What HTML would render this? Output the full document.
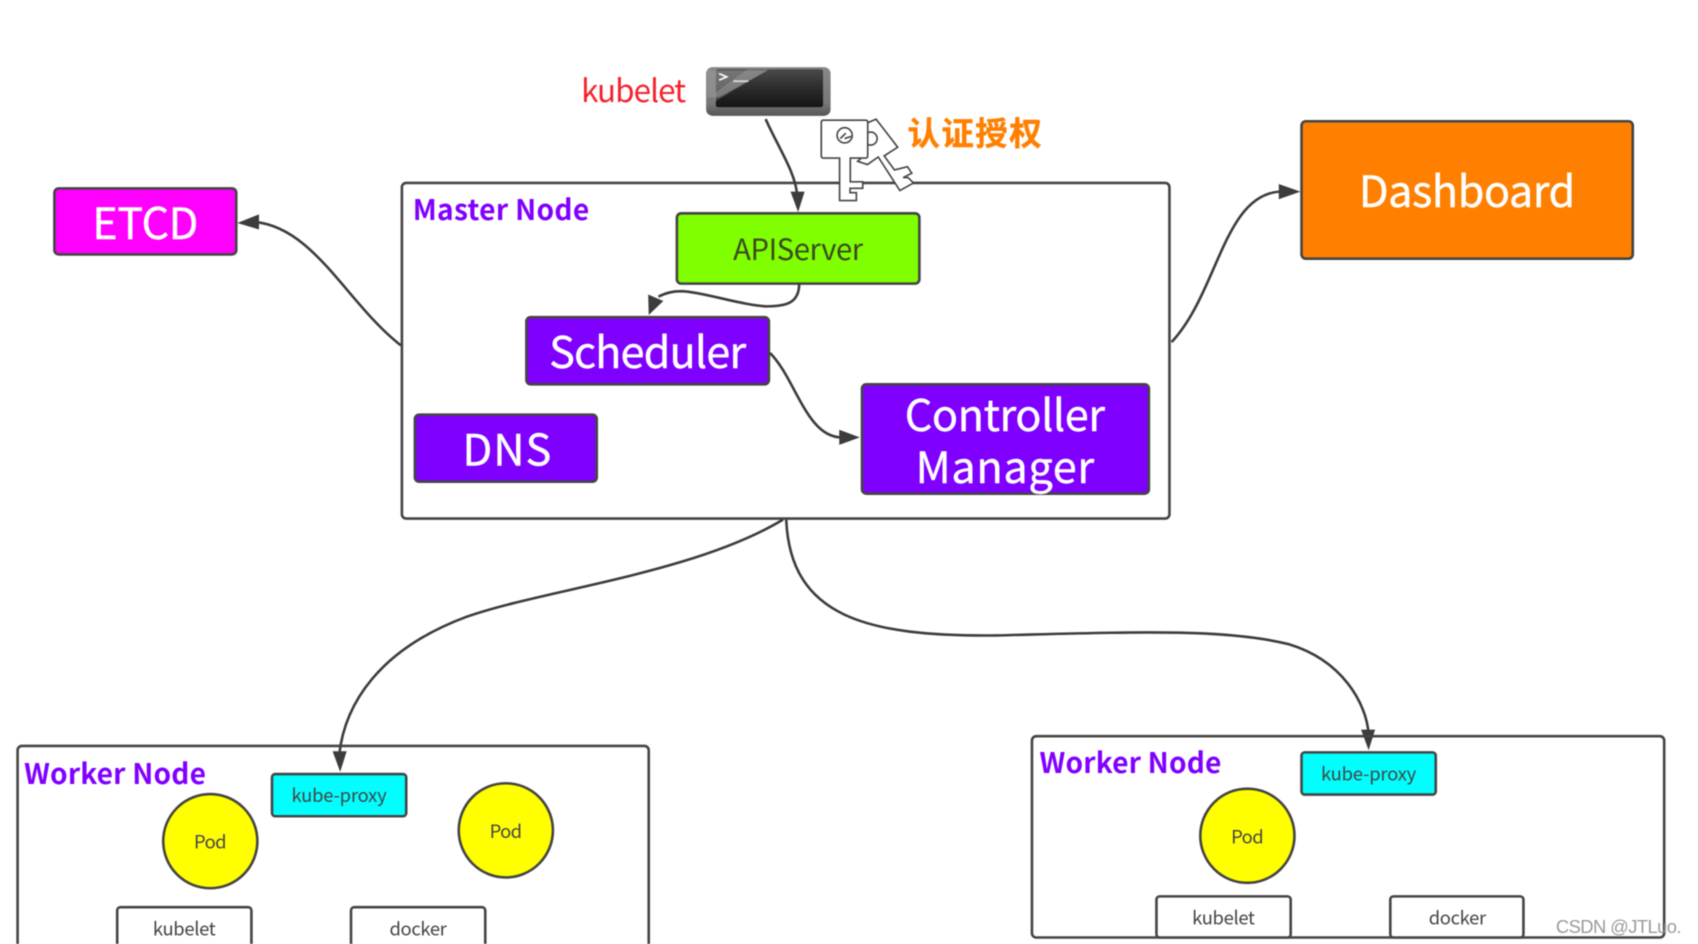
<!DOCTYPE html>
<html><head><meta charset="utf-8"><style>
html,body{margin:0;padding:0;background:#fff;width:1698px;height:944px;overflow:hidden}
svg{display:block;filter:blur(.55px)}
text{font-family:"Noto Sans CJK SC","Liberation Sans",sans-serif;text-anchor:middle}
.b{stroke:#444;stroke-width:2.4}
.e{fill:none;stroke:#3c3c3c;stroke-width:2.4}
.a{fill:#3c3c3c}
.t{fill:#fff;stroke:#fff;stroke-width:.35}
.h{fill:#8000ff;font-weight:700;font-size:26px;text-anchor:start}
.s{fill:#444;font-size:17px}
</style></head><body>
<svg width="1698" height="944" viewBox="0 0 1568 872" xmlns="http://www.w3.org/2000/svg">
<defs>
<linearGradient id="g" x1="0" y1="0" x2="0" y2="1"><stop offset="0" stop-color="#4a4a4a"/><stop offset=".5" stop-color="#2c2c2c"/><stop offset="1" stop-color="#141414"/></linearGradient>
<linearGradient id="o" x1="0" y1="0" x2="0" y2="1"><stop offset="0" stop-color="#888"/><stop offset=".75" stop-color="#777"/><stop offset="1" stop-color="#555"/></linearGradient>
</defs>
<rect x="371" y="169" width="709" height="310" rx="4" fill="#fff" class="b"/>
<text class="h" x="381" y="203" textLength="163">Master Node</text>
<rect x="50" y="174" width="168" height="61" rx="4" fill="#ff00ff" class="b"/>
<text class="t" x="134" y="221" font-size="40" textLength="98">ETCD</text>
<rect x="1202" y="112" width="306" height="127" rx="4" fill="#ff8000" class="b"/>
<text class="t" x="1355" y="191" font-size="40" textLength="200">Dashboard</text>
<rect x="625" y="197" width="224" height="65" rx="4" fill="#80ff00" class="b"/>
<text x="737" y="240" font-size="27" fill="#3a4a20" textLength="120">APIServer</text>
<rect x="486" y="293" width="224" height="62" rx="4" fill="#8000ff" class="b"/>
<text class="t" x="598" y="340" font-size="40" textLength="182">Scheduler</text>
<rect x="383" y="383" width="168" height="62" rx="4" fill="#8000ff" class="b"/>
<text class="t" x="468" y="430" font-size="40" textLength="82">DNS</text>
<rect x="796" y="355" width="265" height="101" rx="4" fill="#8000ff" class="b"/>
<text class="t" x="928" y="398" font-size="40" textLength="185">Controller</text>
<text class="t" x="928" y="446" font-size="40" textLength="165">Manager</text>

<text x="585" y="94" font-size="29" fill="#f5222d" textLength="97">kubelet</text>
<rect x="652" y="62" width="115" height="45" rx="6" fill="url(#o)"/>
<rect x="661" y="64" width="99" height="35" rx="2" fill="url(#g)"/>
<path d="M653 65h56l-45 25h-11z" fill="#9a9a9a" opacity=".55"/>
<path d="M690 64h20l-50 30v-8z" fill="#bbb" opacity=".25"/>
<path d="M664 68l7 3-7 3" fill="none" stroke="#fff" stroke-width="1.6"/><path d="M677 75h14" stroke="#ddd" stroke-width="1.6"/>
<text x="900" y="134" font-size="30" font-weight="700" fill="#ff8000" stroke="#ff8000" stroke-width=".4" textLength="124">认证授权</text>

<g fill="#fff" stroke="#444" stroke-width="1.5">
<path d="M800 114L809 110L829 136L816.5 144L826 157L838 154L842 160L834 164L838.5 164L843.6 169L831 176L811 145L801 152L792 149L801 141Z"/>
<circle cx="804" cy="128" r="6"/>
<path d="M758.4 113Q758.4 111 760.4 111H799.3Q801.3 111 801.3 113V144Q801.3 146 799.3 146H785.2V168H796.7V174H785V178H790.8V185.3H775.3V146H760.4Q758.4 146 758.4 144Z"/>
<circle cx="780" cy="125" r="7"/>
<path d="M776 128l5-5M780 128l6-2" fill="none"/>
</g>

<path class="e" d="M707 110C718 135 735 160 736 180"/><path class="a" d="M730 177h13l-6 19z"/>
<path class="e" d="M738 262C738 280 726 283 708 283C685 282 650 270 630 269C622 269 616 270 608 274"/><path class="a" d="M599 291l-.5-19 14 6z"/>
<path class="e" d="M711 326C735 350 745 405 778 404"/><path class="a" d="M775 397l19 7-19 7z"/>
<path class="e" d="M370 319C320 280 290 210 235 205"/><path class="a" d="M239 198l-20 8 20 6z"/>
<path class="e" d="M1082 316C1125 270 1130 180 1182 177"/><path class="a" d="M1181 170l20 7-20 7z"/>

<path class="e" d="M723 480C640 530 500 545 430 570C350 600 318 650 313 698"/><path class="a" d="M307 694h13l-6 19z"/>
<path class="e" d="M726 480C730 570 800 588 920 587C1040 584 1130 580 1190 595C1240 610 1262 650 1264 678"/><path class="a" d="M1257 674h13l-6 19z"/>

<rect x="16" y="689" width="583" height="200" rx="4" fill="none" class="b"/>
<text class="h" x="22" y="724" textLength="168">Worker Node</text>
<rect x="251" y="715" width="124" height="39" rx="3" fill="#00ffff" class="b"/>
<text class="s" x="313" y="741" textLength="88">kube-proxy</text>
<circle cx="194" cy="777" r="43.5" fill="#ffff00" class="b"/>
<text class="s" x="194" y="784" textLength="30">Pod</text>
<circle cx="467" cy="767" r="43.5" fill="#ffff00" class="b"/>
<text class="s" x="467" y="774" textLength="30">Pod</text>
<rect x="108" y="838" width="124" height="50" rx="3" fill="#fff" class="b"/>
<text class="s" x="170" y="864" textLength="58">kubelet</text>
<rect x="324" y="838" width="124" height="50" rx="3" fill="#fff" class="b"/>
<text class="s" x="386" y="864" textLength="53">docker</text>

<rect x="953" y="680" width="584" height="186" rx="4" fill="none" class="b"/>
<text class="h" x="960" y="714" textLength="168">Worker Node</text>
<rect x="1202" y="695" width="124" height="39" rx="3" fill="#00ffff" class="b"/>
<text class="s" x="1264" y="721" textLength="88">kube-proxy</text>
<circle cx="1152" cy="772" r="43.5" fill="#ffff00" class="b"/>
<text class="s" x="1152" y="779" textLength="30">Pod</text>
<rect x="1068" y="828" width="124" height="38" rx="3" fill="#fff" class="b"/>
<text class="s" x="1130" y="854" textLength="58">kubelet</text>
<rect x="1284" y="828" width="123" height="38" rx="3" fill="#fff" class="b"/>
<text class="s" x="1346" y="854" textLength="53">docker</text>
<text x="1495" y="862" font-size="17" fill="#9a9a9a" textLength="116" style="font-family:'Liberation Sans',sans-serif">CSDN @JTLuo.</text>
</svg>
</body></html>
